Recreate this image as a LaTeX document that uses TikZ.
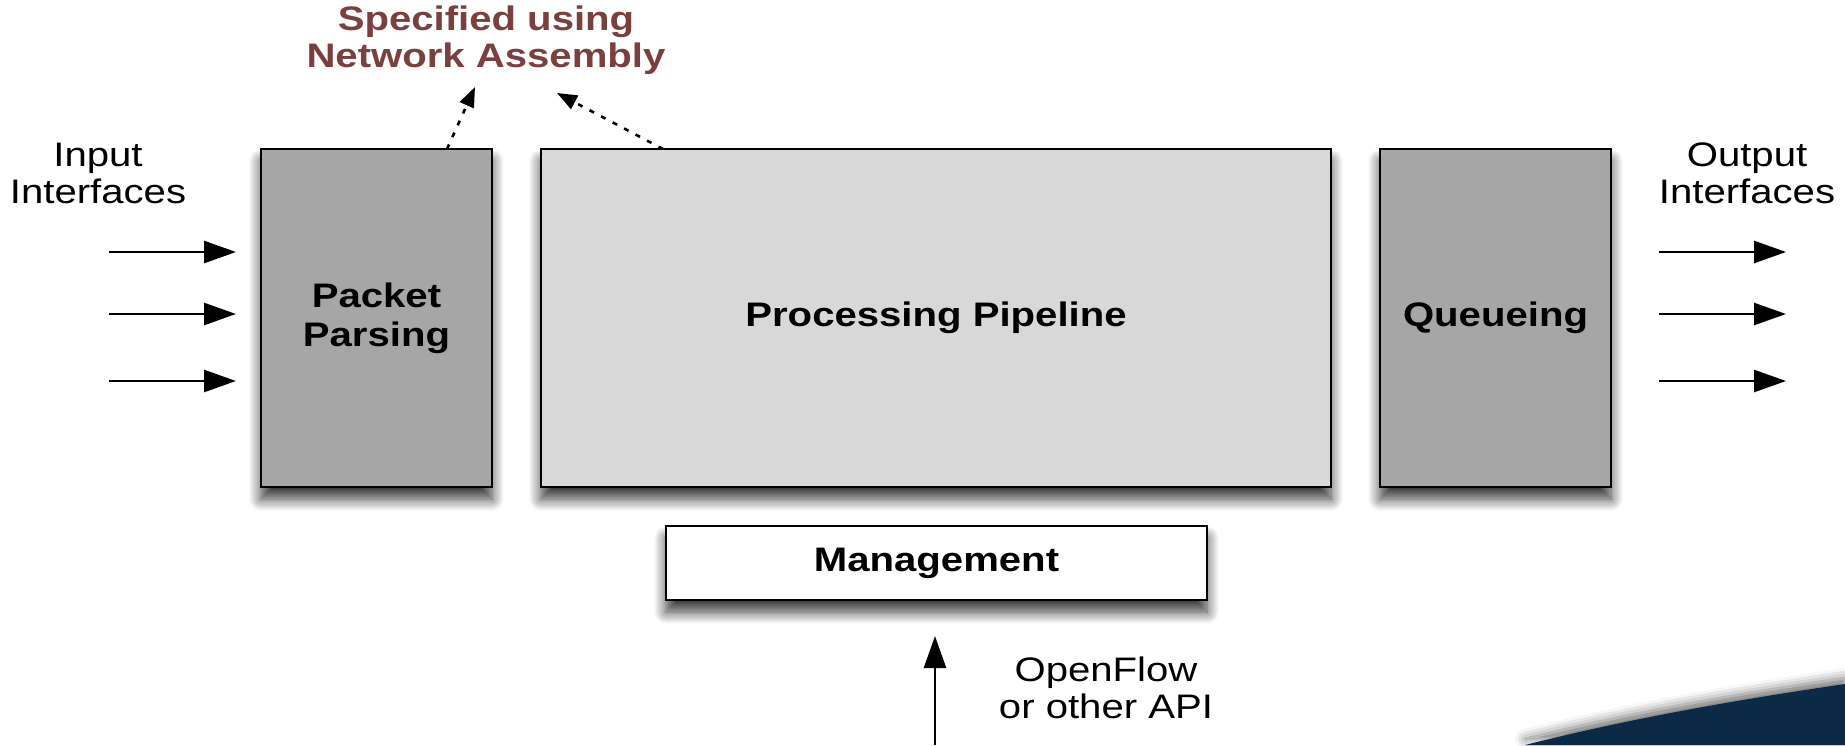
\documentclass[tikz,border=0pt]{standalone}
\usepackage{fontspec}
\setmainfont{Liberation Sans}[FakeStretch=1.18]
\usetikzlibrary{arrows.meta,shadows.blur}
\definecolor{darkbox}{RGB}{166,166,166}
\definecolor{lightbox}{RGB}{216,216,216}
\definecolor{specred}{RGB}{122,64,64}
\definecolor{navy}{RGB}{10,42,69}
\tikzset{
  block/.style={draw=black, line width=1.2pt, inner sep=0pt, align=center,
    font=\fontsize{17}{19.5}\selectfont\bfseries,
    blur shadow={shadow xshift=0pt, shadow yshift=-6pt, shadow blur radius=6pt, shadow blur steps=12, shadow opacity=80}},
  lbl/.style={align=center, font=\fontsize{17}{18.5}\selectfont},
  flow/.style={draw=black, line width=1.3pt, -{Triangle[length=16pt,width=11pt,fill=black]}},
  spec/.style={draw=black, line width=1.3pt, dash pattern=on 2.5pt off 4pt, -{Triangle[length=10pt,width=7.5pt,fill=black]}}
}
\begin{document}
\begin{tikzpicture}[x=0.5pt,y=-0.5pt]
\useasboundingbox (0,0) rectangle (1845,745);
% background swoosh
\fill[navy, blur shadow={shadow xshift=0pt, shadow yshift=3pt, shadow blur radius=5pt, shadow opacity=55}]
  (1525,745) .. controls (1640,716) and (1750,698) .. (1845,684) -- (1845,745) -- cycle;
% blocks
\node[block, fill=darkbox, minimum width=115.5pt, minimum height=169pt] (parse) at (376.5,318) {Packet\\Parsing};
\node[block, fill=lightbox, minimum width=395pt, minimum height=169pt] (pipe) at (936,318) {Processing Pipeline};
\node[block, fill=darkbox, minimum width=115.5pt, minimum height=169pt] (queue) at (1495.5,318) {Queueing};
\node[block, fill=white, minimum width=270.5pt, minimum height=37pt] (mgmt) at (936.5,563) {Management};
% labels
\node[lbl] (inlbl) at (98,173) {Input\\Interfaces};
\node[lbl] (outlbl) at (1747,173) {Output\\Interfaces};
\node[lbl] (api) at (1106,688) {OpenFlow\\or other API};
\node[lbl, text=specred, font=\fontsize{17}{18.5}\selectfont\bfseries] (spec) at (486,40) {Specified using\\Network Assembly};
% input and output arrows
\foreach \i/\y in {1/252,2/314,3/381}{
  \coordinate (ia\i) at (109,\y);
  \coordinate (ib\i) at (236,\y);
  \draw[flow] (ia\i) -- (ib\i);
  \coordinate (oa\i) at (1659,\y);
  \coordinate (ob\i) at (1786,\y);
  \draw[flow] (oa\i) -- (ob\i);
}
% API arrow
\coordinate (apis) at (935,745);
\coordinate (apie) at (935,636);
\draw[flow] (apis) -- (apie);
% dotted arrows
\coordinate (d1s) at (447,149);
\coordinate (d1e) at (475,87);
\coordinate (d2s) at (663,149);
\coordinate (d2e) at (557,93);
\draw[spec] (d1s) -- (d1e);
\draw[spec] (d2s) -- (d2e);
\end{tikzpicture}
\end{document}
